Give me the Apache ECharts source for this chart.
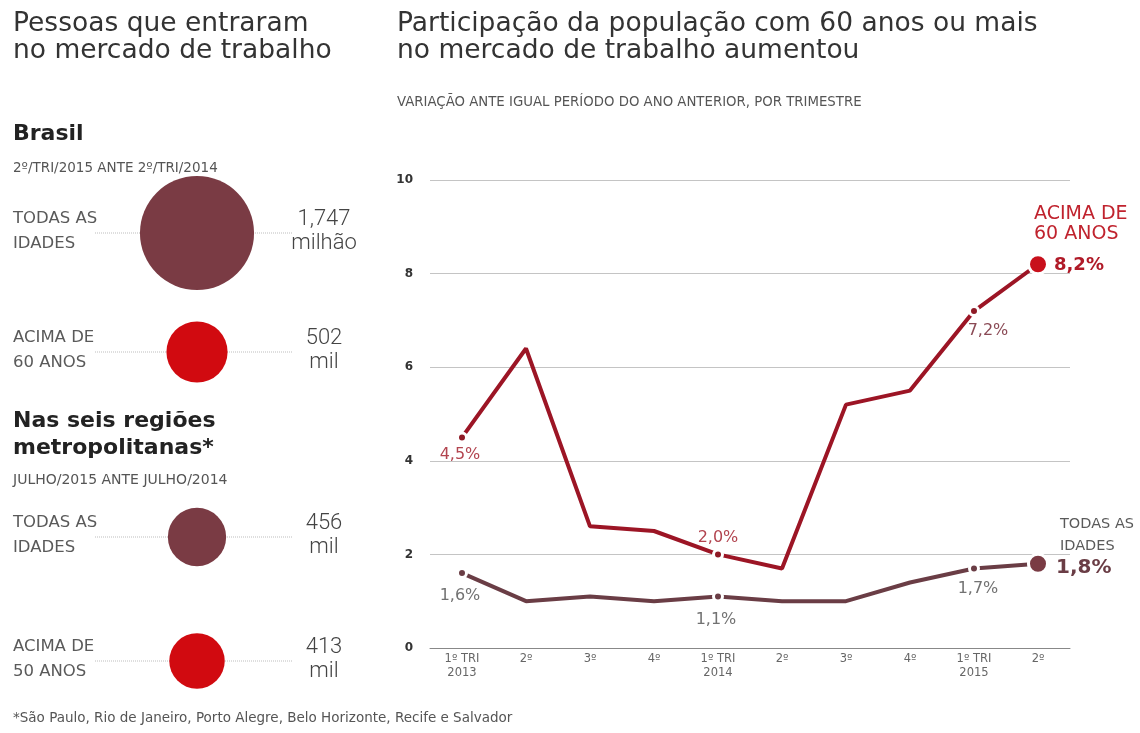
<!DOCTYPE html>
<html><head><meta charset="utf-8">
<script src="https://cdn.jsdelivr.net/npm/echarts@6/dist/echarts.min.js"></script>
<style>html,body{margin:0;padding:0;background:#fff}#c{width:1140px;height:733px}</style>
</head><body><div id="c"></div>
<script>
// ---- data ----
const quarters = ['1º TRI\n2013','2º','3º','4º','1º TRI\n2014','2º','3º','4º','1º TRI\n2015','2º'];
const acima60 = [4.5, 6.4, 2.6, 2.5, 2.0, 1.7, 5.2, 5.5, 7.2, 8.2];
const todas = [1.6, 1.0, 1.1, 1.0, 1.1, 1.0, 1.0, 1.4, 1.7, 1.8];
const yTicks = [0, 2, 4, 6, 8, 10];
const bubbleLabels = ['TODAS AS\nIDADES', 'ACIMA DE\n60 ANOS', 'TODAS AS\nIDADES', 'ACIMA DE\n50 ANOS'];
const bubbleValues = [1747, 502, 456, 413]; // mil pessoas
const bubbleTexts = ['1,747\nmilhão', '502\nmil', '456\nmil', '413\nmil'];

// ---- styling/layout ----
const FONT = "'DejaVu Sans'";
const RED = '#9c1525', REDDOT = '#c8101c', MAROON = '#7a3b44';
const rowCenters = [233, 352, 537, 661];
const bubbleColors = [MAROON, '#d10a10', MAROON, '#d10a10'];
const K = 2.73;

const chart = echarts.init(document.getElementById('c'));
const grids = [], xAxes = [], yAxes = [], series = [], graphics = [];

// main line chart grid
grids.push({left: 430, width: 640, top: 180, height: 468});
xAxes.push({type: 'category', gridIndex: 0, data: quarters, boundaryGap: true,
  axisLine: {lineStyle: {color: '#888', width: 1}},
  axisTick: {alignWithLabel: true, inside: true, length: 8, lineStyle: {color: '#666'}},
  axisLabel: {color: '#666', fontSize: 11.5, fontFamily: FONT, lineHeight: 14, margin: 4}});
yAxes.push({type: 'value', gridIndex: 0, min: 0, max: 10, interval: 2,
  axisLine: {show: false}, axisTick: {show: false},
  splitLine: {lineStyle: {color: '#c4c4c4', width: 1}},
  axisLabel: {color: '#333', fontSize: 12, fontWeight: 'bold', fontFamily: FONT, margin: 17,
    formatter: v => yTicks.includes(v) ? String(v) : ''}});

function pointData(vals, labelled, color, bigColor) {
  return vals.map((v, i) => {
    const last = i === vals.length - 1;
    const lab = labelled[i];
    return {
      value: v,
      symbol: 'circle',
      symbolSize: last ? 19 : (lab ? 9 : 0),
      itemStyle: {color: last ? bigColor : color, borderColor: '#fff', borderWidth: 3},
      label: lab ? {show: true, position: lab.pos, distance: lab.dist, offset: lab.off || [0, 0], color: lab.color,
        fontSize: 16, fontFamily: FONT, formatter: v.toFixed(1).replace('.', ',') + '%'} : {show: false}
    };
  });
}
const RL = '#b2444f', GL = '#727272';
const redLab = {0: {pos: 'bottom', color: RL, dist: 3, off: [-2, 0]}, 4: {pos: 'top', color: RL, dist: 3, off: [0, 0]},
  8: {pos: 'bottom', color: '#8a4a55', dist: 6, off: [14, 0]}};
const grayLab = {0: {pos: 'bottom', color: GL, dist: 9, off: [-2, 0]}, 4: {pos: 'bottom', color: GL, dist: 9, off: [-2, 0]},
  8: {pos: 'bottom', color: GL, dist: 6, off: [4, 0]}};

series.push({type: 'line', xAxisIndex: 0, yAxisIndex: 0, data: pointData(todas, grayLab, '#6a3d45', MAROON),
  lineStyle: {color: '#6a3d45', width: 4}, showSymbol: true, z: 3, animation: false});
series.push({type: 'line', xAxisIndex: 0, yAxisIndex: 0, data: pointData(acima60, redLab, '#8f1a26', REDDOT),
  lineStyle: {color: RED, width: 4}, showSymbol: true, z: 4, animation: false});

// bubbles on left: one small grid per row
bubbleValues.forEach((v, i) => {
  const gi = i + 1;
  grids.push({left: 137, width: 120, top: rowCenters[i] - 60, height: 120});
  xAxes.push({type: 'category', gridIndex: gi, data: ['a'], show: false});
  yAxes.push({type: 'category', gridIndex: gi, data: ['b'], show: false});
  series.push({type: 'scatter', xAxisIndex: gi, yAxisIndex: gi, data: [[0, 0, v]],
    symbolSize: d => Math.sqrt(d[2]) * K, itemStyle: {color: bubbleColors[i], opacity: 1}, z: 5, animation: false});
  graphics.push({type: 'line', shape: {x1: 95, y1: rowCenters[i], x2: 292, y2: rowCenters[i]},
    style: {stroke: '#bdbdbd', lineWidth: 1, lineDash: [1, 1]}, z: 0});
  graphics.push({type: 'text', x: 13, y: rowCenters[i] - 1.5, z: 10,
    style: {text: bubbleLabels[i], fill: '#5a5a5a', font: '16.5px ' + FONT, lineHeight: 25, textVerticalAlign: 'middle'}});
  graphics.push({type: 'text', x: 324, y: rowCenters[i] - 2, z: 10,
    style: {text: bubbleTexts[i], fill: '#444', font: '300 22px Roboto', lineHeight: 24, textAlign: 'center', textVerticalAlign: 'middle'}});
});

const T = (x, y, text, font, fill) => graphics.push({type: 'text', x, y, z: 10,
  style: {text, font, fill, textVerticalAlign: 'middle'}});
T(13, 24, 'Pessoas que entraram', '26.5px ' + FONT, '#333');
T(13, 51, 'no mercado de trabalho', '26.5px ' + FONT, '#333');
T(397, 24, 'Participação da população com 60 anos ou mais', '26.5px ' + FONT, '#333');
T(397, 51, 'no mercado de trabalho aumentou', '26.5px ' + FONT, '#333');
T(397, 103, 'VARIAÇÃO ANTE IGUAL PERÍODO DO ANO ANTERIOR, POR TRIMESTRE', '13.3px ' + FONT, '#555');
T(13, 134, 'Brasil', 'bold 22px ' + FONT, '#222');
T(13, 168, '2º/TRI/2015 ANTE 2º/TRI/2014', '13.5px ' + FONT, '#555');
T(13, 421, 'Nas seis regiões', 'bold 22px ' + FONT, '#222');
T(13, 448, 'metropolitanas*', 'bold 22px ' + FONT, '#222');
T(13, 480, 'JULHO/2015 ANTE JULHO/2014', '14px ' + FONT, '#555');
T(13, 718, '*São Paulo, Rio de Janeiro, Porto Alegre, Belo Horizonte, Recife e Salvador', '13.5px ' + FONT, '#555');
T(1034, 214, 'ACIMA DE', '19px ' + FONT, '#c0232e');
T(1034, 234, '60 ANOS', '19px ' + FONT, '#c0232e');
T(1054, 265, '8,2%', 'bold 18px ' + FONT, '#b01a28');
T(1060, 524, 'TODAS AS', '14.5px ' + FONT, '#5a5a5a');
T(1060, 546, 'IDADES', '14.5px ' + FONT, '#5a5a5a');
T(1056, 568, '1,8%', 'bold 20px ' + FONT, '#6a3d45');

chart.setOption({animation: false, grid: grids, xAxis: xAxes, yAxis: yAxes, series, graphic: graphics});
</script></body></html>
